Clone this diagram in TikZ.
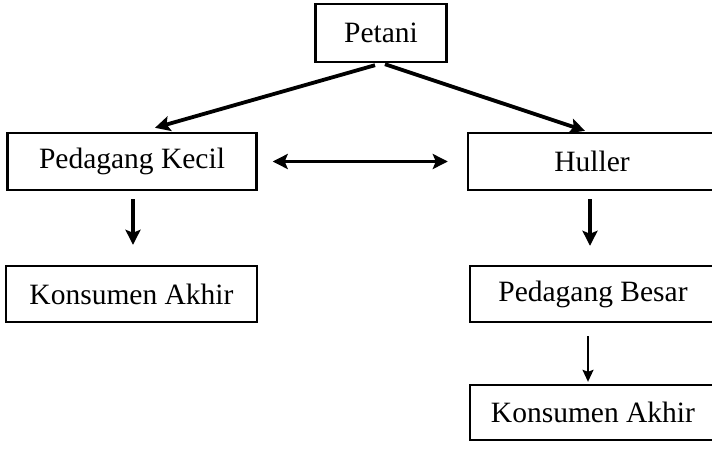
\documentclass[tikz,border=0pt]{standalone}
\usepackage{fontspec}
\setmainfont{Liberation Serif}
\usetikzlibrary{arrows.meta}
\begin{document}
\begin{tikzpicture}[x=1pt,y=-1pt,
  box/.style={draw,line width=2.4pt,minimum height=57pt,inner sep=0pt,font=\fontsize{29.5}{31}\selectfont},
  arr/.style={line width=3.8pt,-{Stealth[length=15pt,width=15pt,inset=3pt]}},
  thinarr/.style={line width=1.7pt,-{Stealth[length=12pt,width=11pt,inset=2pt]}},
  dbl/.style={line width=3.8pt,{Stealth[length=15pt,width=15pt,inset=3pt]}-{Stealth[length=15pt,width=15pt,inset=3pt]}}]
\useasboundingbox (0,0) rectangle (712,448);
\clip (0,0) rectangle (712,448);
\node[box,minimum width=131pt,minimum height=58pt] (petani) at (381,33) {Petani};
\node[box,minimum width=249pt] (pk) at (132,161.5) {Pedagang Kecil};
\node[box,minimum width=248pt] (huller) at (592,161.5) {Huller};
\node[box,minimum width=251pt,minimum height=56pt] (ka1) at (131.5,294) {Konsumen Akhir};
\node[box,minimum width=246pt,minimum height=56pt] (besar) at (593,294) {Pedagang Besar};
\node[box,minimum width=246pt,minimum height=55pt] (ka2) at (593,412.5) {Konsumen Akhir};
\draw[arr] ([xshift=-6pt,yshift=-2pt]petani.south) -- ([xshift=23pt,yshift=4pt]pk.north);
\draw[arr] ([xshift=4pt,yshift=-1pt]petani.south) -- ([xshift=-7pt,yshift=1pt]huller.north);
\draw[dbl,shorten <=15pt,shorten >=19pt] (pk.east) -- (huller.west);
\draw[arr] ([xshift=1pt,yshift=-8pt]pk.south) -- ([xshift=1.5pt,yshift=20pt]ka1.north);
\draw[arr] ([xshift=-2pt,yshift=-8pt]huller.south) -- ([xshift=-3pt,yshift=19pt]besar.north);
\draw[thinarr] ([xshift=-5pt,yshift=-13pt]besar.south) -- ([xshift=-5pt,yshift=2pt]ka2.north);
\end{tikzpicture}
\end{document}
